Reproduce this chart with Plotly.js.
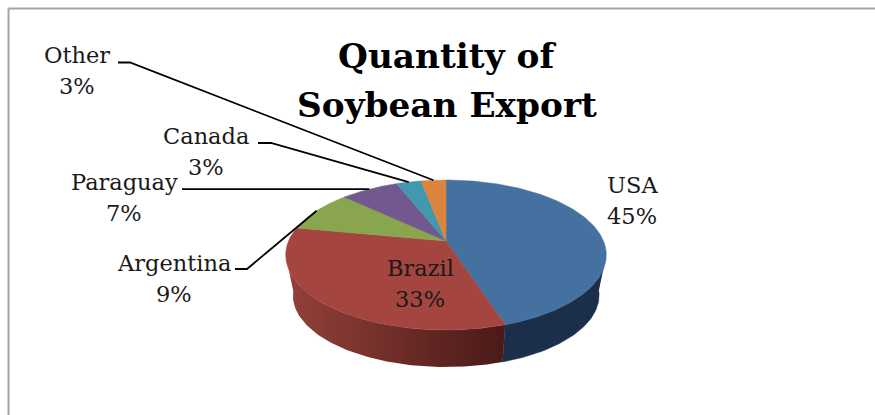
<!DOCTYPE html>
<html><head><meta charset="utf-8">
<script src="https://cdn.plot.ly/plotly-3.0.1.min.js"></script>
<style>html,body{margin:0;padding:0;background:#fff}#c{width:875px;height:415px}</style>
</head><body><div id="c"></div>
<script>
const categories = ["USA","Brazil","Argentina","Paraguay","Canada","Other"];
const shares = [45,33,9,7,3,3];
const topColors = ["#44719f","#a5453f","#89a54e","#71588f","#4198af","#db843d"];
const wallColors = ["#1b2f4a","#6f2e2a","#5c6e34","#4b3b60","#2b6575","#925829"];
const titleLines = ["Quantity of","Soybean Export"];
const titleY = [56,105];
// label centres in pixels
const labelX = [632,420,174,124,206,77];
const labelY = [200,283,278,197,151,70.5];
const lineGap = 15.5;
// leader-line start and elbow for outside labels (null = none)
const leaderStart = [null,null,[235,269],[182,189.14],[258,143],[118,62.5]];
const leaderElbow = [null,null,[247,269],[200,189.14],[271,143],[130,62.5]];

// projection of the tilted disc
const cx=446, cy=241, rx=157.5, ry=72.4, k=0.187, cy2=282, shrink=0.955;
const topLimits=[0.31,0.69], bottomLimits=[0.27,0.73];
function proj(frac,bottom){
  const t=frac*2*Math.PI, s=1/(1+k*Math.cos(t)), f=bottom?shrink:1, c=bottom?cy2:cy;
  return [cx+f*rx*Math.sin(t)*s, c-f*ry*Math.cos(t)*s];
}
function range(a,b,n){const o=[];for(let i=0;i<=n;i++)o.push(a+(b-a)*i/n);return o;}

const total=shares.reduce((p,v)=>p+v,0);
let acc=0;
const spans=shares.map(v=>{const s=[acc/total,(acc+v)/total];acc+=v;return s;});
const traces=[];

// side walls: only the front-facing part of the rim
spans.forEach((sp,i)=>{
  const ta=Math.max(sp[0],topLimits[0]), tb=Math.min(sp[1],topLimits[1]);
  const ba=Math.max(sp[0],bottomLimits[0]), bb=Math.min(sp[1],bottomLimits[1]);
  if(tb<=ta||bb<=ba) return;
  const top=range(ta,tb,80).map(f=>proj(f,false));
  const bot=range(ba,bb,80).map(f=>proj(f,true)).reverse();
  const pts=top.concat(bot);
  const tr={x:pts.map(p=>p[0]),y:pts.map(p=>p[1]),type:"scatter",mode:"lines",fill:"toself",
    fillcolor:wallColors[i],line:{width:0.5,color:wallColors[i]},hoverinfo:"skip",showlegend:false};
  if(categories[i]==="Brazil"){
    tr.fillgradient={type:"horizontal",colorscale:[[0,"#923f39"],[0.35,"#7a332e"],[0.7,"#5e2522"],[1,"#4a1a18"]]};
    tr.line={width:0};
  }
  traces.push(tr);
});

// top face
spans.forEach((sp,i)=>{
  const pts=[[cx,cy]].concat(range(sp[0],sp[1],Math.max(12,Math.round(shares[i]*4))).map(f=>proj(f,false)));
  pts.push([cx,cy]);
  traces.push({x:pts.map(p=>p[0]),y:pts.map(p=>p[1]),type:"scatter",mode:"lines",fill:"toself",
    fillcolor:topColors[i],line:{width:0.5,color:topColors[i]},name:categories[i],
    hoverinfo:"name",showlegend:false});
});

// leader lines end at the rim at each slice's mid-angle
spans.forEach((sp,i)=>{
  if(!leaderStart[i]) return;
  const end=proj((sp[0]+sp[1])/2,false);
  const pts=[leaderStart[i],leaderElbow[i],end];
  traces.push({x:pts.map(p=>p[0]),y:pts.map(p=>p[1]),type:"scatter",mode:"lines",
    line:{width:1.8,color:"#000"},hoverinfo:"skip",showlegend:false});
});

const labelFont={family:"'DejaVu Serif',serif",size:22.5,color:"#1a1a1a"};
const note=(x,y,text,font)=>({x,y,xref:"x",yref:"y",xanchor:"center",yanchor:"middle",showarrow:false,text,font});
const annotations=[];
categories.forEach((c,i)=>{
  annotations.push(note(labelX[i],labelY[i]-lineGap,c,labelFont));
  annotations.push(note(labelX[i],labelY[i]+lineGap,shares[i]+"%",labelFont));
});
titleLines.forEach((t,i)=>annotations.push(note(447,titleY[i],"<b>"+t+"</b>",
  {family:"'DejaVu Serif',serif",size:34.3,color:"#000"})));

const border={type:"line",xref:"x",yref:"y",line:{color:"#a3a3a3",width:2}};
const layout={
  width:875,height:415,margin:{l:0,r:0,t:0,b:0},paper_bgcolor:"#fff",plot_bgcolor:"#fff",
  xaxis:{range:[0,875],visible:false,fixedrange:true},
  yaxis:{range:[415,0],visible:false,fixedrange:true},
  showlegend:false,annotations,
  shapes:[Object.assign({},border,{x0:8.5,x1:8.5,y0:8.5,y1:415}),
          Object.assign({},border,{x0:8.5,x1:875,y0:8.5,y1:8.5})]
};
Plotly.newPlot("c",traces,layout,{displayModeBar:false,staticPlot:true});
</script>
</body></html>
